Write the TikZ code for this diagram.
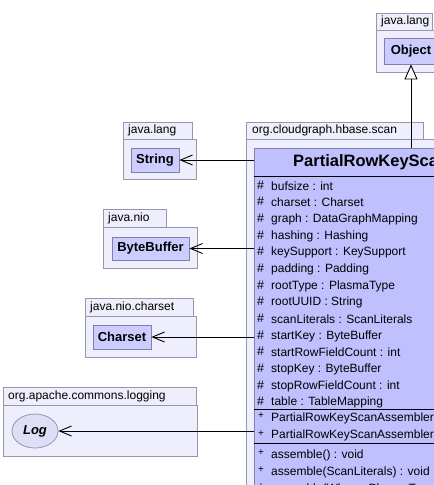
\documentclass[tikz,border=0pt]{standalone}
\usepackage{fontspec}
\setmainfont{Liberation Sans}
\usetikzlibrary{arrows.meta,shapes.geometric}
\definecolor{pkgfill}{RGB}{238,238,252}
\definecolor{pkgdraw}{RGB}{150,150,172}
\definecolor{clsfill}{RGB}{204,204,255}
\definecolor{clsdraw}{RGB}{128,128,168}
\definecolor{mainfill}{RGB}{192,192,255}
\definecolor{ellfill}{RGB}{222,222,246}
\tikzset{
  pkgshape/.style={fill=pkgfill, draw=pkgdraw, line width=0.8pt},
  pkglabel/.style={anchor=west, inner sep=0pt, font=\fontsize{12}{14}\selectfont},
  clsbox/.style={fill=clsfill, draw=clsdraw, line width=0.8pt, inner sep=0pt,
    font=\fontsize{13}{15}\selectfont\bfseries},
  mainbox/.style={fill=mainfill, draw=clsdraw, line width=0.8pt, inner sep=0pt, anchor=north west},
  row/.style={anchor=west, inner sep=0pt, font=\fontsize{12}{14}\selectfont},
  vis/.style={anchor=west, inner sep=0pt, font=\fontsize{12.5}{14}\selectfont},
  visplus/.style={anchor=west, inner sep=0pt, font=\fontsize{10}{12}\selectfont},
  sepline/.style={draw=black, line width=0.9pt},
  dep/.style={draw=black, line width=0.9pt, -{Straight Barb[length=12pt,width=10pt,line width=0.9pt]}},
  gen/.style={draw=black, line width=0.9pt, -{Triangle[open, length=15pt, width=13pt, line width=0.9pt, fill=white]}}
}
\begin{document}
\begin{tikzpicture}[x=1pt, y=-1pt]
\useasboundingbox (0,0) rectangle (434,485);
\clip (0,0) rectangle (434,485);
\fill[white] (0,0) rectangle (434,485);

% ---- packages ----
% java.lang (Object)
\draw[pkgshape] (376,13) rectangle (432,30);
\draw[pkgshape] (376,30) rectangle (446,72);
\node[pkglabel] (pobj) at (381,21.5) {java.lang};
% java.lang (String)
\draw[pkgshape] (123,122) rectangle (192,139);
\draw[pkgshape] (123,139) rectangle (196,179);
\node[pkglabel] (pstr) at (128,130.5) {java.lang};
% java.nio
\draw[pkgshape] (103,209) rectangle (166,227);
\draw[pkgshape] (103,227) rectangle (197,268);
\node[pkglabel] (pnio) at (108,218) {java.nio};
% java.nio.charset
\draw[pkgshape] (85,298) rectangle (193,316);
\draw[pkgshape] (85,316) rectangle (196,357);
\node[pkglabel] (pcs) at (90,307) {java.nio.charset};
% org.apache.commons.logging
\draw[pkgshape] (3,387) rectangle (196,405);
\draw[pkgshape] (3,405) rectangle (197,456);
\node[pkglabel] (plog) at (8,396) {org.apache.commons.logging};
% org.cloudgraph.hbase.scan
\draw[pkgshape] (246,122) rectangle (423,139);
\draw[pkgshape] (246,139) rectangle (446,500);
\node[pkglabel] (pscan) at (252,130.5) {org.cloudgraph.hbase.scan};

% ---- classes ----
\node[clsbox, minimum width=54pt, minimum height=26pt] (obj) at (411,51) {Object};
\node[clsbox, minimum width=48pt, minimum height=24pt] (str) at (155,160) {String};
\node[clsbox, minimum width=77pt, minimum height=23pt] (bb) at (150.5,248.5) {ByteBuffer};
\node[clsbox, minimum width=58pt, minimum height=24pt] (cs) at (122,337) {Charset};
\node[ellipse, fill=ellfill, draw=pkgdraw, line width=0.8pt, minimum width=46pt, minimum height=34pt,
  inner sep=0pt, font=\fontsize{13}{15}\selectfont\bfseries\itshape] (log) at (35,431) {Log};

% main class
\node[mainbox, minimum width=200pt, minimum height=360pt] (main) at (254,148) {};
\node[anchor=west, inner sep=0pt, font=\fontsize{16.5}{19}\selectfont\bfseries] (title) at (293,162) {PartialRowKeyScanAssembler};
\draw[sepline] (254,176) -- (446,176);
\draw[sepline] (254,409.5) -- (446,409.5);
\draw[sepline] (254,443.5) -- (446,443.5);

\foreach \y/\t [count=\i] in {186/{bufsize : int},
  202.7/{charset : Charset},
  219.3/{graph : DataGraphMapping},
  236/{hashing : Hashing},
  252.7/{keySupport : KeySupport},
  269.3/{padding : Padding},
  286/{rootType : PlasmaType},
  302.7/{rootUUID : String},
  319.3/{scanLiterals : ScanLiterals},
  336/{startKey : ByteBuffer},
  352.7/{startRowFieldCount : int},
  369.3/{stopKey : ByteBuffer},
  386/{stopRowFieldCount : int},
  402.7/{table : TableMapping}}{
  \node[vis] (h\i) at (257,\y-1) {\#};
  \node[row] (r\i) at (271,\y) {\t};
}
\foreach \y/\t [count=\i] in {418/{PartialRowKeyScanAssembler(PlasmaType)},
  435.5/{PartialRowKeyScanAssembler(PlasmaType, KeySupport)},
  455/{assemble() : void},
  472/{assemble(ScanLiterals) : void},
  489/{assemble(Where, PlasmaType) : void}}{
  \node[visplus] (p\i) at (258,\y-2) {+};
  \node[row] (m\i) at (271,\y) {\t};
}

% ---- connectors ----
\draw[gen] (main.north -| obj.south) -- (obj.south);
\draw[dep] (main.west |- str.east) -- (str.east);
\draw[dep] (main.west |- bb.east) -- (bb.east);
\draw[dep] (main.west |- cs.east) -- (cs.east);
\draw[dep] (main.west |- log.east) -- (log.east);
\end{tikzpicture}
\end{document}
